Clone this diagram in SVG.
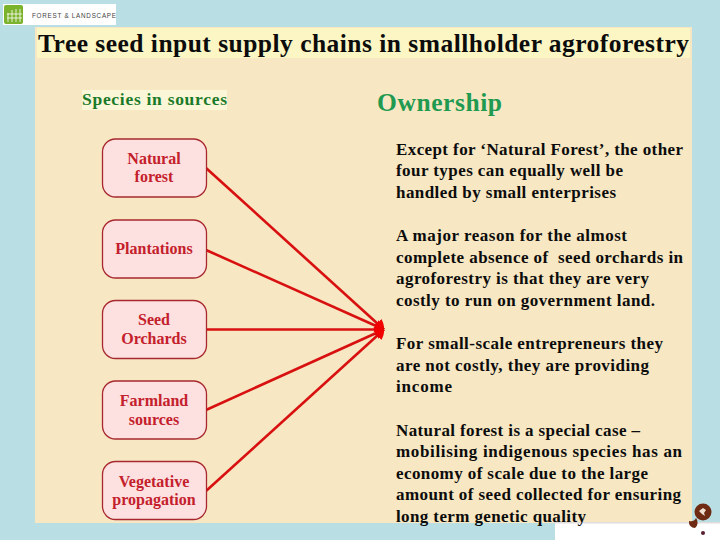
<svg xmlns="http://www.w3.org/2000/svg" width="720" height="540" viewBox="0 0 720 540">
<style>
.n{fill:#fde0e0;stroke:#a8282e;stroke-width:1.3}
.nt{font:bold 16px "Liberation Serif",serif;fill:#c4202c;text-anchor:middle}
.b{font:bold 17px "Liberation Serif",serif;fill:#0c0c0c;white-space:pre}
.c{stroke:#d81010;stroke-width:2.6;fill:none}
</style>
<defs><marker id="a" markerUnits="userSpaceOnUse" markerWidth="12" markerHeight="24" refX="9" refY="12" orient="auto"><path d="M0 6Q6 8 9 12Q6 16 0 18Z" fill="#f00000"/></marker></defs>
<rect width="720" height="540" fill="#b9dfe5"/>
<rect x="35" y="27" width="657" height="496" fill="#f7e7c3"/>
<rect x="37" y="28" width="653" height="30" fill="#fbf6c4"/>
<rect x="82" y="90" width="145" height="20" fill="#fbf6d8"/>
<rect x="555" y="523" width="165" height="17" fill="#fff"/>
<rect x="553" y="522" width="167" height="1.500" fill="#e0dcdc"/>
<g id="logo">
<rect x="3" y="4" width="113" height="21" fill="#fff"/>
<rect x="4" y="5" width="19" height="19" rx="2" fill="#7cb32c"/>
<path d="M8 22V13M12 22V10M16 22V9M20 22V9M7 14H22M7 18H22" stroke="#fff" stroke-width=".8" fill="none"/>
<text x="32" y="17.500" font-family="Liberation Sans,sans-serif" font-size="6.300" textLength="84" fill="#444">FOREST &amp; LANDSCAPE</text>
</g>
<text x="38" y="52" font-family="Liberation Serif,serif" font-weight="bold" font-size="25.500" textLength="651" fill="#0c0c0c">Tree seed input supply chains in smallholder agroforestry</text>
<text x="82" y="105" font-family="Liberation Serif,serif" font-weight="bold" font-size="17.500" textLength="145" fill="#1a7a28">Species in sources</text>
<text x="377" y="111" font-family="Liberation Serif,serif" font-weight="bold" font-size="25.500" fill="#1f9a50" textLength="125">Ownership</text>
<g id="connectors">
<line class="c" x1="206" y1="168" x2="384" y2="329.500" marker-end="url(#a)"/>
<line class="c" x1="206" y1="250" x2="384" y2="329.500" marker-end="url(#a)"/>
<line class="c" x1="206" y1="329.500" x2="384" y2="329.500" marker-end="url(#a)"/>
<line class="c" x1="206" y1="410" x2="384" y2="329.500" marker-end="url(#a)"/>
<line class="c" x1="206" y1="491" x2="384" y2="329.500" marker-end="url(#a)"/>
</g>
<g id="n1"><rect class="n" x="102.500" y="139" width="104" height="58" rx="13"/><text class="nt" x="154" y="164">Natural</text><text class="nt" x="154" y="182">forest</text></g>
<g id="n2"><rect class="n" x="102.500" y="220" width="104" height="58" rx="13"/><text class="nt" x="154" y="254">Plantations</text></g>
<g id="n3"><rect class="n" x="102.500" y="300.500" width="104" height="58" rx="13"/><text class="nt" x="154" y="325">Seed</text><text class="nt" x="154" y="344">Orchards</text></g>
<g id="n4"><rect class="n" x="102.500" y="381" width="104" height="58" rx="13"/><text class="nt" x="154" y="406">Farmland</text><text class="nt" x="154" y="425">sources</text></g>
<g id="n5"><rect class="n" x="102.500" y="461.500" width="104" height="58" rx="13"/><text class="nt" x="154" y="487">Vegetative</text><text class="nt" x="154" y="505">propagation</text></g>
<g id="body">
<text class="b" x="396" y="155" textLength="287">Except for ‘Natural Forest’, the other</text>
<text class="b" x="396" y="176" textLength="227">four types can equally well be</text>
<text class="b" x="396" y="198" textLength="220">handled by small enterprises</text>
<text class="b" x="396" y="241" textLength="231">A major reason for the almost</text>
<text class="b" x="396" y="263" textLength="287">complete absence of  seed orchards in</text>
<text class="b" x="396" y="284" textLength="253">agroforestry is that they are very</text>
<text class="b" x="396" y="306" textLength="259">costly to run on government land.</text>
<text class="b" x="396" y="349" textLength="267">For small-scale entrepreneurs they</text>
<text class="b" x="396" y="371" textLength="253">are not costly, they are providing</text>
<text class="b" x="396" y="392" textLength="56">income</text>
<text class="b" x="396" y="436" textLength="244">Natural forest is a special case –</text>
<text class="b" x="396" y="457" textLength="286">mobilising indigenous species has an</text>
<text class="b" x="396" y="479" textLength="252">economy of scale due to the large</text>
<text class="b" x="396" y="500" textLength="285">amount of seed collected for ensuring</text>
<text class="b" x="396" y="522" textLength="190">long term genetic quality</text>
</g>
<g id="emblem">
<circle cx="703" cy="512" r="8.500" fill="#6e2a12"/>
<path d="M699 511l4-3 3 2-2 3 1 3-3-2z" fill="#f0e0d0"/>
<path d="M689 521a6 6 0 0 0 7-3a7 7 0 0 1-1 10a6 6 0 0 1-6-7z" fill="#6e2a12"/>
<circle cx="703" cy="533" r="2" fill="#5a2030"/>
</g>
</svg>
